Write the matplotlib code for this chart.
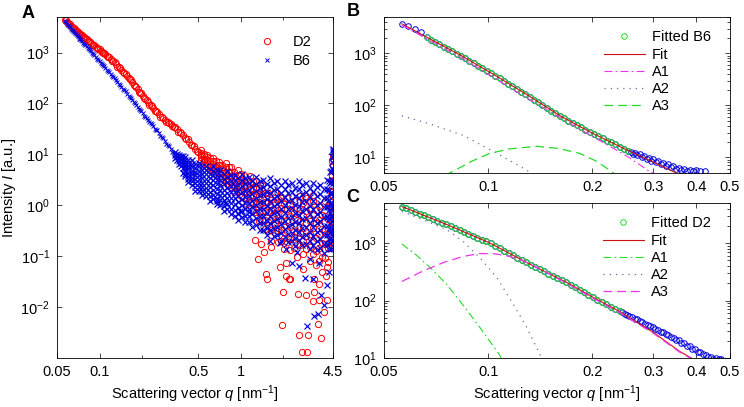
import matplotlib
matplotlib.use("Agg")
import matplotlib.pyplot as plt
from matplotlib.ticker import FixedLocator, NullLocator, LogLocator, NullFormatter
import numpy as np

plt.rcParams['font.family'] = ['Liberation Sans', 'DejaVu Sans']
plt.rcParams['mathtext.fontset'] = 'custom'
plt.rcParams['mathtext.rm'] = 'Liberation Sans'
plt.rcParams['mathtext.it'] = 'Liberation Sans:italic'
plt.rcParams['font.size'] = 10.5

# ---------------- panel A : raw curves ----------------
# D2, smooth part (two interleaved readings of the thick band)
d2_q = [0.057, 0.059, 0.061, 0.063, 0.065, 0.067, 0.069, 0.071, 0.073, 0.075, 0.078, 0.081,
        0.084, 0.087, 0.090, 0.094, 0.098, 0.102, 0.106, 0.110, 0.115, 0.120, 0.125, 0.131,
        0.137, 0.143, 0.150, 0.157, 0.164, 0.171, 0.178, 0.186, 0.194, 0.202, 0.211, 0.220,
        0.230, 0.240, 0.251, 0.263, 0.276, 0.290, 0.305, 0.320, 0.336, 0.353, 0.371, 0.390,
        0.410, 0.431, 0.453, 0.476, 0.500,
        0.058, 0.060, 0.062, 0.064, 0.066, 0.068, 0.070, 0.072, 0.074, 0.0765, 0.0795, 0.0825,
        0.0855, 0.0885, 0.092, 0.096, 0.100, 0.104, 0.108, 0.1125, 0.1175, 0.1225, 0.128, 0.134,
        0.140, 0.1465, 0.1535, 0.1605, 0.1675, 0.1745, 0.182, 0.190, 0.198, 0.2065, 0.2155,
        0.225, 0.235, 0.2455, 0.257, 0.2695, 0.283, 0.2975, 0.3125, 0.328, 0.3445, 0.362,
        0.3805, 0.400, 0.4205, 0.442, 0.4645, 0.488]
d2_I = [4450, 4050, 3700, 3380, 3100, 2850, 2620, 2450, 2280, 2170, 1980, 1810,
        1660, 1530, 1420, 1300, 1190, 1090, 1000, 920, 830, 750, 670, 590,
        515, 465, 400, 345, 300, 260, 225, 190, 162, 140, 122, 106,
        92, 80, 70, 62, 54, 48, 43, 39, 35, 31, 27, 23.5,
        20.5, 17.5, 15.2, 13, 11.2,
        4300, 3850, 3600, 3200, 3020, 2700, 2580, 2330, 2250, 2020, 1940, 1700,
        1620, 1440, 1380, 1220, 1160, 1020, 985, 850, 815, 690, 650, 530,
        505, 415, 385, 310, 290, 235, 215, 170, 158, 126, 118,
        95, 88, 72, 68, 55, 53, 44, 42, 35.5, 34, 28,
        26.5, 21, 19.8, 15.5, 14.8, 11.6]

# D2, noisy part: one column of readings per q
d2c_q = [0.52, 0.55, 0.58, 0.61, 0.64, 0.67, 0.70, 0.74, 0.78, 0.82, 0.86, 0.90, 0.95, 1.00,
         1.05, 1.10, 1.16, 1.22, 1.28, 1.35, 1.42, 1.49, 1.57, 1.65, 1.74, 1.83, 1.93, 2.03,
         2.14, 2.25, 2.37, 2.50, 2.63, 2.77, 2.92, 3.07, 3.23, 3.40, 3.58, 3.77, 3.97, 4.18,
         4.30, 4.40, 4.46, 4.49]
d2c_I = [[12.0, 10.8, 9.75, 8.8, 7.9], [10.4, 9.25, 8.2, 7.35, 6.55], [9.9, 8.7, 7.7, 6.75, 5.95],
         [8.5, 7.4, 6.4, 5.6, 4.9], [8.6, 7.4, 6.4, 5.5, 4.75], [7.4, 6.3, 5.4, 4.6, 3.9],
         [7.2, 6.1, 5.1, 4.3, 3.6], [6.1, 5.1, 4.25, 3.5, 2.9], [6.8, 5.6, 4.6, 3.8, 3.1],
         [5.7, 4.6, 3.75, 3.05, 2.5], [5.6, 4.5, 3.6, 2.9, 2.3], [4.6, 3.7, 2.9, 2.3, 1.84],
         [4.95, 3.9, 3.05, 2.4, 1.9], [4.1, 3.2, 2.45, 1.9, 1.5], [4.0, 3.05, 2.35, 1.8, 1.38],
         [3.2, 2.45, 1.85, 1.4, 1.07], [3.8, 2.8, 2.1, 1.55, 1.15], [2.98, 2.16, 1.56, 1.13, 0.82],
         [2.94, 2.08, 1.47, 1.04, 0.74], [2.2, 1.52, 1.05, 0.73, 0.5], [2.48, 1.67, 1.13, 0.77, 0.52],
         [1.77, 1.17, 0.77, 0.51, 0.34], [1.78, 1.15, 0.74, 0.48, 0.31], [1.27, 0.8, 0.51, 0.32, 0.2],
         [1.8, 1.14, 0.72, 0.45, 0.285], [1.33, 0.82, 0.51, 0.31, 0.19], [1.42, 0.87, 0.54, 0.33, 0.2],
         [1.06, 0.64, 0.38, 0.23, 0.14], [1.41, 0.85, 0.51, 0.31, 0.186], [1.08, 0.63, 0.37, 0.22, 0.13],
         [1.19, 0.7, 0.41, 0.24, 0.143], [0.89, 0.51, 0.3, 0.17, 0.098], [1.5, 0.86, 0.5, 0.29, 0.164],
         [1.12, 0.63, 0.36, 0.2, 0.112], [1.39, 0.78, 0.44, 0.25, 0.139], [0.89, 0.49, 0.27, 0.149, 0.082],
         [1.21, 0.66, 0.36, 0.2, 0.11], [0.81, 0.44, 0.23, 0.126, 0.068], [0.95, 0.51, 0.27, 0.147, 0.08],
         [0.65, 0.34, 0.18, 0.095, 0.05], [1.2, 0.63, 0.33, 0.173, 0.091], [1.01, 0.53, 0.28, 0.147, 0.077],
         [1.87, 0.98, 0.52, 0.27, 0.142], [2.98, 1.49, 0.75, 0.37, 0.19], [7.3, 3.7, 1.84, 0.92, 0.46],
         [9.5, 6.2, 3.1, 1.55, 0.78]]

# D2, isolated points
d2o_q = [1.32, 1.50, 1.53, 2.00, 1.97, 2.10, 2.60, 3.00, 2.70, 2.95, 3.70, 3.50, 2.55, 2.90,
         3.25, 3.30, 3.60, 3.90, 4.05, 2.25, 2.75, 3.30, 3.60, 4.00, 4.05, 4.20,
         1.26, 1.45, 1.40, 1.65, 1.90, 2.10, 2.20, 1.02, 1.37, 1.90, 2.85, 3.25]
d2o_I = [0.087, 0.044, 0.035, 0.02, 0.0045, 0.075, 0.0028, 0.0028, 0.0013, 0.0013, 0.0025,
         0.0046, 0.018, 0.017, 0.013, 0.02, 0.014, 0.008, 0.014, 0.035, 0.055, 0.035, 0.028,
         0.04, 0.06, 0.19,
         0.21, 0.12, 0.17, 0.15, 0.06, 0.04, 0.035, 3.2, 2.6, 1.5, 1.5, 1.6]

# B6, smooth part
b6_q = [0.057, 0.059, 0.061, 0.063, 0.065, 0.067, 0.069, 0.071, 0.073, 0.075, 0.078, 0.081,
        0.084, 0.087, 0.090, 0.094, 0.098, 0.102, 0.106, 0.110, 0.115, 0.120, 0.125, 0.131,
        0.137, 0.143, 0.150, 0.157, 0.164, 0.171, 0.178, 0.186, 0.194, 0.202, 0.211, 0.220,
        0.230, 0.240, 0.251, 0.263, 0.276, 0.290, 0.305, 0.320, 0.336,
        0.058, 0.060, 0.062, 0.064, 0.066, 0.068, 0.070, 0.072, 0.074, 0.0765, 0.0795, 0.0825,
        0.0855, 0.0885, 0.092, 0.096, 0.100, 0.104, 0.108, 0.1125, 0.1175, 0.1225, 0.128, 0.134,
        0.140, 0.1465, 0.1535, 0.1605, 0.1675, 0.1745, 0.182, 0.190, 0.198, 0.2065, 0.2155,
        0.225, 0.235, 0.2455, 0.257, 0.2695, 0.283, 0.2975, 0.3125, 0.328]
b6_I = [4100, 3700, 3300, 2950, 2650, 2420, 2200, 2000, 1830, 1680, 1480, 1320,
        1180, 1060, 950, 820, 720, 630, 560, 495, 430, 375, 330, 285,
        245, 212, 182, 155, 133, 115, 100, 86, 74, 64, 55, 47,
        41, 36, 30, 26, 22, 18, 15, 12.5, 10.5,
        3900, 3450, 3150, 2760, 2550, 2280, 2120, 1890, 1770, 1560, 1420, 1240,
        1130, 990, 900, 760, 690, 590, 535, 455, 410, 350, 310, 262,
        232, 195, 172, 142, 126, 106, 95, 79, 70, 58, 53,
        43, 40, 32, 29.5, 23, 21, 16, 14.5, 11]

# B6, noisy cloud: one column of readings per q
b6c_q = [0.345, 0.355, 0.365, 0.376, 0.388,
         0.400, 0.424, 0.450, 0.477, 0.505, 0.535, 0.567, 0.601, 0.637, 0.676, 0.716, 0.759,
         0.805, 0.853, 0.904, 0.958, 1.016, 1.077, 1.141, 1.210, 1.282, 1.359, 1.441, 1.527,
         1.619, 1.716, 1.819, 1.928, 2.044, 2.166, 2.296, 2.434, 2.580, 2.735, 2.899, 3.073,
         3.257, 3.453, 3.660, 3.879, 4.112, 4.200, 4.300, 4.380, 4.450, 4.490]
b6c_I = [[11.0, 9.6, 8.6], [10.4, 8.9, 7.8], [9.9, 8.5, 7.3, 6.4], [9.5, 8.0, 6.8, 5.8],
         [9.2, 7.6, 6.4, 5.3, 4.4],
         [8.8, 7.8, 6.9, 6.1, 5.4, 4.8, 4.2, 3.7],
         [7.7, 6.7, 5.8, 5.1, 4.4, 3.8, 3.3, 2.9],
         [7.6, 6.5, 5.6, 4.75, 4.1, 3.5, 3.0, 2.5],
         [6.6, 5.5, 4.6, 3.9, 3.3, 2.7, 2.3, 1.9],
         [6.9, 5.8, 4.8, 4.0, 3.35, 2.8, 2.3, 1.95],
         [6.0, 5.0, 4.1, 3.4, 2.8, 2.3, 1.9, 1.6],
         [6.0, 5.0, 4.1, 3.3, 2.7, 2.2, 1.8, 1.5],
         [5.2, 4.2, 3.4, 2.8, 2.25, 1.8, 1.5, 1.2],
         [5.9, 4.8, 3.85, 3.1, 2.5, 2.0, 1.6, 1.3],
         [5.0, 4.0, 3.2, 2.6, 2.05, 1.65, 1.3, 1.05],
         [5.0, 4.0, 3.2, 2.5, 2.0, 1.6, 1.25, 1.0],
         [4.2, 3.3, 2.6, 2.0, 1.6, 1.26, 0.99, 0.78],
         [4.65, 3.6, 2.85, 2.2, 1.74, 1.36, 1.06, 0.83],
         [3.9, 3.0, 2.35, 1.8, 1.4, 1.09, 0.85, 0.66],
         [4.0, 3.1, 2.35, 1.8, 1.4, 1.07, 0.82, 0.63],
         [3.4, 2.55, 1.95, 1.5, 1.14, 0.87, 0.67, 0.51],
         [4.1, 3.1, 2.35, 1.8, 1.35, 1.02, 0.77, 0.58],
         [3.5, 2.6, 1.95, 1.47, 1.1, 0.83, 0.63, 0.47],
         [3.6, 2.7, 2.0, 1.5, 1.12, 0.84, 0.63, 0.47],
         [3.0, 2.25, 1.67, 1.24, 0.92, 0.68, 0.5, 0.37],
         [3.55, 2.6, 1.9, 1.4, 1.03, 0.76, 0.56, 0.41],
         [2.95, 2.15, 1.57, 1.15, 0.84, 0.61, 0.44, 0.32],
         [3.1, 2.25, 1.63, 1.18, 0.86, 0.62, 0.45, 0.33],
         [2.6, 1.86, 1.34, 0.96, 0.69, 0.5, 0.36, 0.26],
         [3.4, 2.43, 1.73, 1.24, 0.885, 0.63, 0.45, 0.32],
         [2.8, 1.97, 1.4, 0.99, 0.7, 0.5, 0.355, 0.25],
         [3.0, 2.13, 1.5, 1.06, 0.75, 0.53, 0.37, 0.26],
         [2.5, 1.74, 1.22, 0.85, 0.6, 0.42, 0.29, 0.2],
         [3.05, 2.1, 1.48, 1.03, 0.71, 0.5, 0.34, 0.24],
         [2.5, 1.73, 1.2, 0.83, 0.57, 0.4, 0.27, 0.19],
         [2.7, 1.85, 1.28, 0.88, 0.6, 0.42, 0.29, 0.2],
         [2.2, 1.5, 1.03, 0.71, 0.48, 0.33, 0.23, 0.16],
         [3.0, 2.05, 1.4, 0.95, 0.65, 0.44, 0.3, 0.21],
         [2.47, 1.68, 1.14, 0.77, 0.53, 0.36, 0.24, 0.165],
         [2.7, 1.8, 1.22, 0.83, 0.56, 0.38, 0.26, 0.17],
         [2.2, 1.48, 0.99, 0.67, 0.45, 0.3, 0.2, 0.137],
         [2.75, 1.85, 1.24, 0.83, 0.55, 0.37, 0.25, 0.167],
         [2.25, 1.5, 1.0, 0.67, 0.44, 0.3, 0.2, 0.13],
         [2.53, 1.68, 1.11, 0.74, 0.49, 0.33, 0.22, 0.144],
         [2.1, 1.38, 0.91, 0.6, 0.4, 0.26, 0.17, 0.115],
         [3.2, 2.1, 1.38, 0.91, 0.6, 0.39, 0.26, 0.17],
         [3.05, 1.97, 1.27, 0.82, 0.53, 0.34, 0.22, 0.14],
         [4.45, 2.8, 1.77, 1.12, 0.71, 0.45, 0.28, 0.18],
         [4.8, 2.9, 1.74, 1.05, 0.63, 0.38, 0.23, 0.14],
         [9.3, 5.4, 3.1, 1.78, 1.02, 0.59, 0.34, 0.195],
         [12.5, 8.7, 4.9, 2.76, 1.55, 0.87, 0.49, 0.28]]

# B6, isolated points
b6o_q = [2.95, 3.30, 3.50, 3.90, 4.05, 3.70, 3.25, 2.85, 2.60, 2.30, 2.10, 3.60, 1.60, 1.90,
         2.50, 3.10, 4.20, 4.30, 4.40, 0.68, 0.77, 0.98, 1.15, 4.43, 4.47, 4.48]
b6o_I = [0.0042, 0.0066, 0.0073, 0.011, 0.027, 0.017, 0.035, 0.038, 0.063, 0.075, 0.14, 0.075,
         0.2, 0.18, 0.12, 0.09, 0.05, 0.3, 0.2, 1.2, 1.1, 0.76, 0.73, 7.0, 12.0, 11.0]

# ---------------- panel B : fit of B6 ----------------
fb_q = [0.0563, 0.0588, 0.0615, 0.0639,
        0.0664, 0.0683, 0.0703, 0.0723, 0.0744, 0.0766, 0.0788, 0.0811, 0.0834, 0.0858,
        0.0883, 0.0909, 0.0935, 0.0962, 0.0990, 0.1019, 0.1048, 0.1079, 0.1110, 0.1142,
        0.1175, 0.1209, 0.1244, 0.1280, 0.1317, 0.1355, 0.1395, 0.1435, 0.1477, 0.1520,
        0.1564, 0.1609, 0.1656, 0.1704, 0.1753, 0.1804, 0.1856, 0.1910, 0.1965, 0.2022,
        0.2081, 0.2141, 0.2203, 0.2267, 0.2333, 0.2400, 0.2470, 0.2541,
        0.258, 0.262, 0.266, 0.270, 0.274, 0.278, 0.282, 0.287, 0.291, 0.296, 0.300, 0.305,
        0.310, 0.315, 0.320, 0.326, 0.331, 0.337, 0.343, 0.349, 0.355, 0.362, 0.369, 0.376,
        0.384, 0.392, 0.400, 0.410, 0.424]
fb_I = [3630, 3375, 3000, 2520,
        2030, 1830, 1660, 1490, 1350, 1220, 1100, 993, 897, 807,
        723, 646, 578, 518, 462, 414, 370, 329, 292, 260,
        231, 206, 183, 163, 145, 128, 114, 101, 89.5, 79.4,
        70.5, 62.7, 56.5, 51.1, 46.0, 41.6, 37.5, 33.9, 30.5, 27.6,
        25.8, 23.1, 20.4, 19.3, 18.2, 16.1, 14.2, 13.4,
        12.8, 11.6, 12.2, 10.9, 11.5, 10.1, 10.6, 9.4, 9.9, 8.6, 9.2, 8.0,
        8.5, 7.4, 7.9, 6.9, 7.3, 6.4, 6.8, 6.0, 6.3, 5.7, 6.0, 5.5,
        5.8, 5.4, 5.7, 5.4, 5.5]
fb_fit_start, fb_fit_end = 4, 52   # fitted range of B6

fitb_q = [0.0563, 0.0664, 0.0848, 0.106, 0.129, 0.1614, 0.2015, 0.254, 0.287, 0.32, 0.35]
fitb_I = [3700, 2050, 860, 360, 163, 63, 28.5, 13.5, 9.3, 6.6, 5.0]
a1b_q = [0.0563, 0.0848, 0.129, 0.184, 0.252, 0.29, 0.31]
a1b_I = [3500, 780, 140, 35, 10.5, 5.6, 4.4]
a2b_q = [0.0563, 0.068, 0.0848, 0.106, 0.129, 0.135]
a2b_I = [62.8, 43.8, 26.4, 11.9, 5.75, 4.5]
a3b_q = [0.075, 0.08, 0.09, 0.101, 0.115, 0.138, 0.16, 0.184, 0.205, 0.225, 0.235]
a3b_I = [4.5, 5.6, 8.5, 11.9, 14.5, 16.3, 14.8, 11.9, 8.5, 5.6, 4.5]

# ---------------- panel C : fit of D2 ----------------
fc_q = [0.0563, 0.058, 0.0597, 0.0615, 0.0634, 0.0653, 0.0672, 0.0692, 0.0713, 0.0735,
        0.0757, 0.0779, 0.0803, 0.0827, 0.0852, 0.0877, 0.0903, 0.0931, 0.0958, 0.0987,
        0.1017, 0.1047, 0.1079, 0.1111, 0.1145, 0.1179, 0.1214, 0.1251, 0.1288, 0.1327,
        0.1367, 0.1408, 0.1450, 0.1493, 0.1538, 0.1584, 0.1632, 0.1681, 0.1731, 0.1783,
        0.1837, 0.1892, 0.1949, 0.2007, 0.2067, 0.2129, 0.2193, 0.2259, 0.2327, 0.2397,
        0.244, 0.248, 0.252, 0.256, 0.261, 0.265, 0.270, 0.274, 0.279, 0.284, 0.289, 0.294,
        0.299, 0.304, 0.310, 0.315, 0.321, 0.326, 0.332, 0.338, 0.344, 0.350, 0.356, 0.362,
        0.369, 0.375, 0.382, 0.389, 0.396, 0.403, 0.410, 0.417, 0.425, 0.432, 0.440, 0.448,
        0.456, 0.464, 0.472]
fc_I = [4345, 4046, 3758, 3499, 3258, 3034, 2818, 2624, 2443, 2270,
        2113, 1959, 1816, 1683, 1560, 1445, 1340, 1242, 1153, 1069,
        986, 897, 817, 743, 676, 615, 560, 509, 463, 422,
        386, 354, 324, 296, 272, 248, 228, 208, 189, 171,
        155, 140, 126, 115, 104, 94.6, 86.1, 78.2, 71.1, 64.6,
        62, 58, 57, 53, 51, 48, 47, 43.5, 42.5, 39.5, 38, 35.5,
        34.5, 32, 31, 28.8, 28, 25.8, 25.2, 23.2, 22.5, 20.6, 20.2, 18.4,
        18.0, 16.3, 16.0, 14.5, 14.2, 12.9, 12.7, 11.6, 11.3, 10.5, 10.3, 9.7,
        10.0, 9.6, 9.8]
fc_fit_start, fc_fit_end = 0, 50   # fitted range of D2

fitc_q = [0.0563, 0.0759, 0.101, 0.132, 0.1686, 0.201, 0.2397, 0.3, 0.358, 0.392, 0.41]
fitc_I = [4345, 2113, 1010, 430, 207, 114, 64.6, 28, 13, 9.5, 8]
a1c_q = [0.0563, 0.062, 0.068, 0.076, 0.0848, 0.095, 0.1075, 0.11]
a1c_I = [970, 620, 375, 190, 82, 33, 11.7, 9]
a2c_q = [0.0563, 0.065, 0.0759, 0.085, 0.0946, 0.106, 0.118, 0.129, 0.141, 0.144]
a2c_I = [3560, 2550, 1720, 1050, 558, 250, 88, 35, 11.7, 9]
a3c_q = [0.0563, 0.065, 0.075, 0.085, 0.0946, 0.105, 0.115, 0.1265, 0.14, 0.1686, 0.201,
         0.2397, 0.3, 0.358, 0.392, 0.41]
a3c_I = [215, 330, 470, 590, 660, 650, 590, 490, 365, 200, 110, 62, 27, 12.6, 9.3, 7.8]

RED = '#ff0000'
BLUE = '#0000dd'
GREEN = '#22dd22'
FITRED = '#cc1111'
MAG = '#ee33ee'
A2COL = '#6a6aa8'


def columns(qs, cols):
    q = np.repeat(qs, [len(c) for c in cols])
    return q, np.concatenate(cols)


d2cq, d2cI = columns(d2c_q, d2c_I)
b6cq, b6cI = columns(b6c_q, b6c_I)
d2_all_q = np.concatenate([d2_q, d2cq, d2o_q])
d2_all_I = np.concatenate([d2_I, d2cI, d2o_I])
b6_noisy_q = np.concatenate([b6cq, b6o_q])
b6_noisy_I = np.concatenate([b6cI, b6o_I])

fig = plt.figure(figsize=(7.44, 4.07), dpi=100)
axA = fig.add_axes([57/744, 1-358/407, 276/744, 341/407])
axB = fig.add_axes([384/744, 1-173/407, 346/744, 156/407])
axC = fig.add_axes([384/744, 1-358/407, 346/744, 155/407])


def style(ax):
    ax.set_xscale('log')
    ax.set_yscale('log')
    ax.tick_params(which='both', direction='in', top=True, right=True, width=0.5,
                   labelsize=10.5, pad=5)
    ax.tick_params(which='major', length=3.5)
    ax.tick_params(which='minor', length=2)
    for s in ax.spines.values():
        s.set_linewidth(0.6)


# panel A
style(axA)
axA.plot(d2_all_q, d2_all_I, 'o', ls='none', mfc='none', mec=RED, ms=4.5, mew=0.7, label='D2')
axA.plot(b6_q, b6_I, 'x', ls='none', color=BLUE, ms=3.5, mew=0.7, label='B6')
axA.plot(b6_noisy_q, b6_noisy_I, 'x', ls='none', color=BLUE, ms=4, mew=0.85)
axA.set_xlim(0.05, 4.5)
axA.set_ylim(1e-3, 5000)
axA.xaxis.set_major_locator(FixedLocator([0.05, 0.1, 0.5, 1, 4.5]))
axA.set_xticklabels(['0.05', '0.1', '0.5', '1', '4.5'])
axA.xaxis.set_minor_locator(FixedLocator([0.2, 2]))
axA.xaxis.set_minor_formatter(NullFormatter())
axA.yaxis.set_major_locator(FixedLocator([1e-2, 1e-1, 1, 10, 100, 1000]))
axA.yaxis.set_minor_locator(NullLocator())
axA.set_xlabel(r'Scattering vector $q$ [nm$^{-1}$]', fontsize=10.5, labelpad=3)
axA.set_ylabel(r'Intensity $I$ [a.u.]', fontsize=10.5, labelpad=2)
axA.legend(loc='upper right', frameon=False, fontsize=10.5, numpoints=1,
           handlelength=1.2, handletextpad=1.2, labelspacing=0.35,
           bbox_to_anchor=(0.97, 0.985))

# panel B
style(axB)
axB.plot(fb_q, fb_I, 'o', ls='none', mfc='none', mec=BLUE, ms=4, mew=0.7)
axB.plot(fb_q[fb_fit_start:fb_fit_end], fb_I[fb_fit_start:fb_fit_end], 'o', ls='none',
         mfc='none', mec=GREEN, ms=4, mew=0.7, label='Fitted B6')
axB.plot(fitb_q, fitb_I, '-', color=FITRED, lw=0.8, label='Fit')
axB.plot(a1b_q, a1b_I, color=MAG, lw=0.8, ls=(0, (7, 3, 1.5, 3)), label='A1')
axB.plot(a2b_q, a2b_I, color=A2COL, lw=0.9, ls=(0, (1, 4)), label='A2')
axB.plot(a3b_q, a3b_I, color=GREEN, lw=0.9, ls=(0, (7, 4)), label='A3')
axB.set_xlim(0.05, 0.5)
axB.set_ylim(5, 5000)

# panel C
style(axC)
axC.plot(fc_q, fc_I, 'o', ls='none', mfc='none', mec=BLUE, ms=4, mew=0.7)
axC.plot(fc_q[fc_fit_start:fc_fit_end], fc_I[fc_fit_start:fc_fit_end], 'o', ls='none',
         mfc='none', mec=GREEN, ms=4, mew=0.7, label='Fitted D2')
axC.plot(fitc_q, fitc_I, '-', color=FITRED, lw=0.8, label='Fit')
axC.plot(a1c_q, a1c_I, color=GREEN, lw=0.8, ls=(0, (7, 3, 1.5, 3)), label='A1')
axC.plot(a2c_q, a2c_I, color=A2COL, lw=0.9, ls=(0, (1, 4)), label='A2')
axC.plot(a3c_q, a3c_I, color=MAG, lw=0.9, ls=(0, (7, 4)), label='A3')
axC.set_xlim(0.05, 0.5)
axC.set_ylim(10, 5000)
axC.set_xlabel(r'Scattering vector $q$ [nm$^{-1}$]', fontsize=10.5, labelpad=3)

for ax in (axB, axC):
    ax.xaxis.set_major_locator(FixedLocator([0.05, 0.1, 0.2, 0.3, 0.4, 0.5]))
    ax.set_xticklabels(['0.05', '0.1', '0.2', '0.3', '0.4', '0.5'])
    ax.xaxis.set_minor_locator(NullLocator())
    ax.yaxis.set_major_locator(FixedLocator([10, 100, 1000]))
    ax.yaxis.set_minor_locator(LogLocator(base=10, subs=np.arange(2, 10)))
    ax.yaxis.set_minor_formatter(NullFormatter())
    ax.legend(loc='upper right', frameon=False, fontsize=10.5, numpoints=1,
              handlelength=2.8, handletextpad=0.5, labelspacing=0.22,
              bbox_to_anchor=(0.97, 0.97), borderaxespad=0.2)

fig.text(28/744, 1-13/407, 'A', fontsize=13, fontweight='bold', ha='center', va='center')
fig.text(353/744, 1-12/407, 'B', fontsize=13, fontweight='bold', ha='center', va='center')
fig.text(353/744, 1-197/407, 'C', fontsize=13, fontweight='bold', ha='center', va='center')

fig.savefig('out.png', dpi=100)
